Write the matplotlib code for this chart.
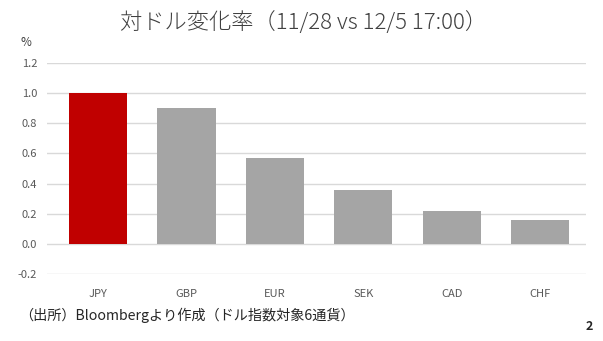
import matplotlib
matplotlib.use("Agg")
import matplotlib.pyplot as plt

plt.rcParams['font.family'] = ['Noto Sans CJK JP', 'DejaVu Sans']

categories = ["JPY", "GBP", "EUR", "SEK", "CAD", "CHF"]
values = [1.00, 0.90, 0.57, 0.36, 0.22, 0.16]
colors = ["#C00000", "#A5A5A5", "#A5A5A5", "#A5A5A5", "#A5A5A5", "#A5A5A5"]
yticks = [-0.2, 0.0, 0.2, 0.4, 0.6, 0.8, 1.0, 1.2]

fig = plt.figure(figsize=(6.03, 3.41), dpi=100)
ax = fig.add_axes([47/603, 1 - 274/341, (586-47)/603, (274-63)/341])
ax.bar(range(len(categories)), values, width=0.66, color=colors, zorder=3)
ax.set_xlim(-0.58, len(categories) - 0.48)
ax.set_ylim(-0.2, 1.2)
ax.set_yticks(yticks)
ax.set_yticklabels([f"{v:.1f}" for v in yticks])
ax.set_xticks(range(len(categories)))
ax.set_xticklabels(categories)
ax.grid(axis='y', color='#D9D9D9', linewidth=1, zorder=0)
for s in ax.spines.values():
    s.set_visible(False)
ax.tick_params(axis='both', length=0, labelsize=8, colors='#595959')
ax.tick_params(axis='y', pad=7)
ax.tick_params(axis='x', pad=11)

fig.text(304/603, 1 - 23/341, "対ドル変化率（11/28 vs 12/5 17:00）", ha='center', va='center',
         fontsize=16, color='#404040', fontweight='light')
fig.text(26/603, 1 - 42/341, "%", ha='center', va='center', fontsize=8.5, color='#404040')
fig.text(19/603, 1 - 315/341, "（出所）Bloombergより作成（ドル指数対象6通貨）", ha='left', va='center',
         fontsize=10.2, color='#262626')
fig.text(589/603, 1 - 327/341, "2", ha='center', va='center', fontsize=9, fontweight='bold',
         color='#262626')

fig.savefig("out.png", dpi=100)
